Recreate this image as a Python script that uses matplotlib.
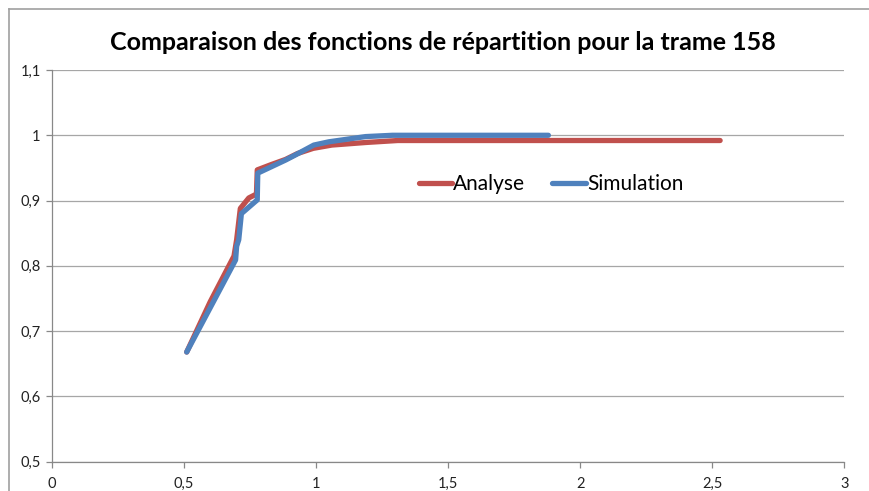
import matplotlib
matplotlib.use("Agg")
import matplotlib.pyplot as plt
from matplotlib.lines import Line2D

# Empirical distribution functions for frame 158
analyse_x = [0.511, 0.60, 0.69, 0.70, 0.714, 0.746, 0.775, 0.778, 0.83, 0.885,
             0.93, 0.99, 1.06, 1.19, 1.31, 1.6, 2.0, 2.53]
analyse_y = [0.668, 0.745, 0.815, 0.84, 0.888, 0.904, 0.91, 0.947, 0.955, 0.963,
             0.972, 0.980, 0.985, 0.989, 0.992, 0.992, 0.992, 0.992]

simulation_x = [0.511, 0.696, 0.700, 0.708, 0.718, 0.778, 0.780, 0.885, 0.923,
                0.992, 1.049, 1.188, 1.29, 1.88]
simulation_y = [0.668, 0.809, 0.83, 0.840, 0.880, 0.901, 0.942, 0.962, 0.970,
                0.985, 0.990, 0.998, 1.0, 1.0]

x_ticks = [0, 0.5, 1, 1.5, 2, 2.5, 3]
x_labels = ["0", "0,5", "1", "1,5", "2", "2,5", "3"]
y_ticks = [0.5, 0.6, 0.7, 0.8, 0.9, 1.0, 1.1]
y_labels = ["0,5", "0,6", "0,7", "0,8", "0,9", "1", "1,1"]

plt.rcParams['font.family'] = ['Lato', 'DejaVu Sans']

W, H = 869, 491
fig = plt.figure(figsize=(W / 100, H / 100), dpi=100)
ax = fig.add_axes([51.7 / W, 1 - 461.7 / H, 792.6 / W, 391.7 / H])

ax.plot(analyse_x, analyse_y, color="#C0504D", lw=3.8, solid_capstyle="round",
        label="Analyse", zorder=3)
ax.plot(simulation_x, simulation_y, color="#4F81BD", lw=3.8, solid_capstyle="round",
        label="Simulation", zorder=4)

ax.set_xlim(0, 3)
ax.set_ylim(0.5, 1.1)
ax.set_xticks(x_ticks)
ax.set_xticklabels(x_labels)
ax.set_yticks(y_ticks)
ax.set_yticklabels(y_labels)

for s in ("top", "right"):
    ax.spines[s].set_visible(False)
for s in ("left", "bottom"):
    ax.spines[s].set_color("#888888")
    ax.spines[s].set_linewidth(0.9)
ax.yaxis.grid(True, color="#a6a6a6", lw=0.9)
ax.set_axisbelow(True)
ax.tick_params(axis="both", direction="out", length=4, width=0.9, color="#888888",
               labelsize=10.5, labelcolor="#222222")
ax.tick_params(axis="x", pad=7)
ax.tick_params(axis="y", pad=4)

fig.text(443 / W, 1 - 43 / H, "Comparaison des fonctions de répartition pour la trame 158",
         ha="center", va="center", fontsize=18, fontweight="bold", color="#000000")

ax.legend(loc="center", bbox_to_anchor=(0.63, 0.708), ncol=2, frameon=False,
          fontsize=15, handlelength=1.6, handletextpad=0.05, columnspacing=1.3)

# chart border
fig.add_artist(Line2D([8.5 / W, 8.5 / W], [0, 1 - 8.5 / H], transform=fig.transFigure,
                      color="#a0a0a0", lw=1.2))
fig.add_artist(Line2D([8.5 / W, 1], [1 - 8.5 / H, 1 - 8.5 / H], transform=fig.transFigure,
                      color="#a0a0a0", lw=1.2))

fig.savefig("out.png", dpi=100)
